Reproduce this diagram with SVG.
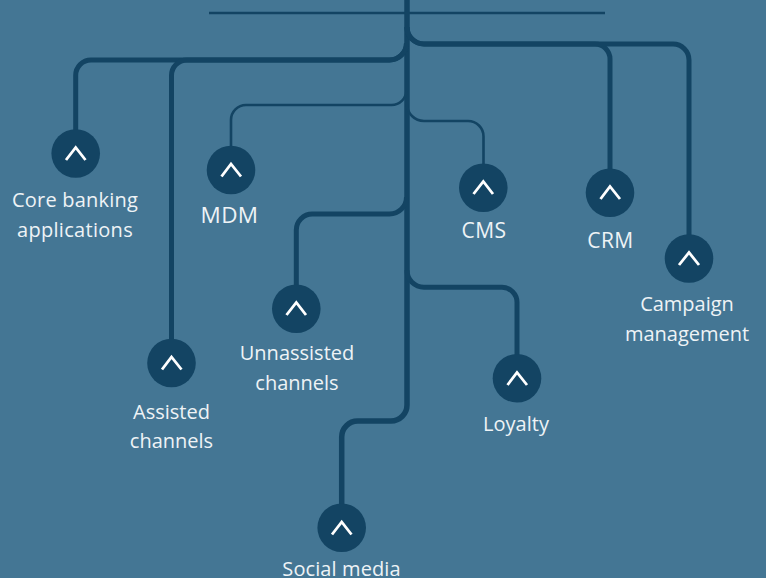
<svg xmlns="http://www.w3.org/2000/svg" width="766" height="578" viewBox="0 0 766 578">
<style>
.c{fill:none;stroke:#134463;stroke-width:5;stroke-linecap:butt}
.t{stroke-width:2.6}
.n{fill:#134463}
.h{fill:none;stroke:#fff;stroke-width:2.8}
text{font-family:"Open Sans","Noto Sans",sans-serif;font-size:20px;fill:#eef3f6;text-anchor:middle}
.w{font-size:21px;letter-spacing:.4px}
</style>
<rect width="766" height="578" fill="#447694"/>
<g id="connectors">
<path class="c" style="stroke-width:2.4" d="M209 13H605"/>
<path class="c" style="stroke-width:5.500" d="M407 0V405A16 16 0 0 1 391 421H357.700A16 16 0 0 0 341.700 437V510"/>
<path class="c" d="M406.500 43A17 17 0 0 1 389.500 60H91A15.300 15.300 0 0 0 75.700 75.300V135"/>
<path class="c" d="M406.500 43A17 17 0 0 1 389.500 60H187A15.500 15.500 0 0 0 171.500 75.500V345"/>
<path class="c t" d="M406.500 90A15 15 0 0 1 391.500 105H246A15 15 0 0 0 231 120V150"/>
<path class="c" d="M406.500 197A17 17 0 0 1 389.500 214H312.300A16 16 0 0 0 296.300 230V290"/>
<path class="c" d="M407 27A17 17 0 0 0 424 44H595A15 15 0 0 1 610 59V175"/>
<path class="c" d="M407 27A17 17 0 0 0 424 44H673A16 16 0 0 1 689 60V240"/>
<path class="c t" d="M407 104A17 17 0 0 0 424 121H468A15.500 15.500 0 0 1 483.500 136.500V170"/>
<path class="c" d="M407 270.300A17 17 0 0 0 424 287.300H502A15 15 0 0 1 517 302.300V360"/>
</g>
<g id="core-banking"><circle class="n" cx="75.700" cy="153.500" r="24.300"/><path class="h" d="M66 160L75.700 147.500L85.500 160"/><text x="75" y="207" style="letter-spacing:.2px">Core banking</text><text x="75" y="237" style="letter-spacing:.3px">applications</text></g>
<g id="mdm"><circle class="n" cx="231" cy="170" r="24.300"/><path class="h" d="M221.500 176.500L231 164L241 176.500"/><text x="229.500" y="223" style="font-size:22.500px;letter-spacing:.4px">MDM</text></g>
<g id="cms"><circle class="n" cx="483.300" cy="187.700" r="24.300"/><path class="h" d="M473.500 194L483.300 181.500L493 194"/><text x="484" y="238" class="w">CMS</text></g>
<g id="crm"><circle class="n" cx="610" cy="192.700" r="24.300"/><path class="h" d="M600.500 199L610 186.500L620 199"/><text x="610.500" y="248" class="w">CRM</text></g>
<g id="campaign"><circle class="n" cx="689" cy="258.500" r="24.300"/><path class="h" d="M679 265L689 252.500L699 265"/><text x="687" y="311">Campaign</text><text x="687" y="341">management</text></g>
<g id="unassisted"><circle class="n" cx="296.300" cy="308.700" r="24.300"/><path class="h" d="M286.500 315L296.300 302.500L306 315"/><text x="297" y="360">Unnassisted</text><text x="297" y="390">channels</text></g>
<g id="assisted"><circle class="n" cx="171.500" cy="363" r="24.300"/><path class="h" d="M162 369.500L171.500 357L181.500 369.500"/><text x="171.500" y="419">Assisted</text><text x="171.500" y="448">channels</text></g>
<g id="loyalty"><circle class="n" cx="517" cy="378.300" r="24.300"/><path class="h" d="M507.500 385L517 372.500L527 385"/><text x="516" y="431">Loyalty</text></g>
<g id="social"><circle class="n" cx="341.700" cy="527.700" r="24.300"/><path class="h" d="M332 534.500L341.700 522L351.500 534.500"/><text x="341.500" y="576" style="letter-spacing:.1px">Social media</text></g>
</svg>
